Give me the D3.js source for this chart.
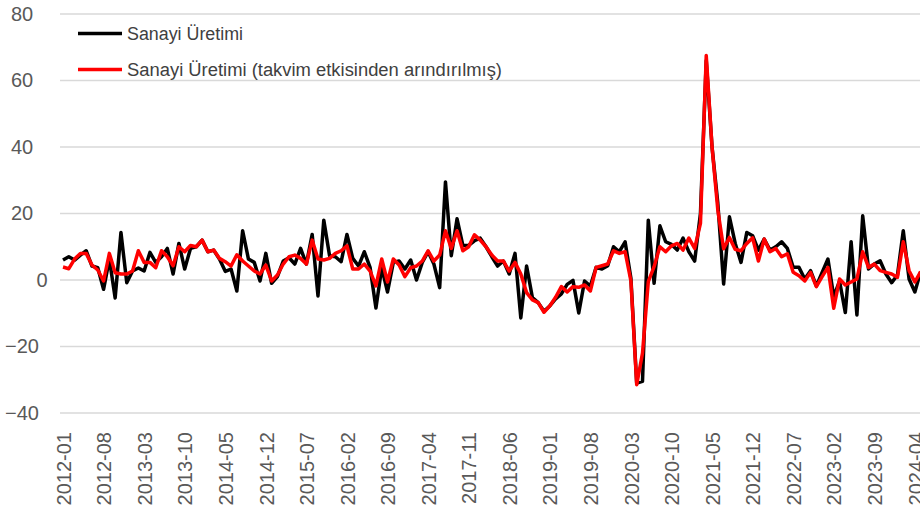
<!DOCTYPE html>
<html>
<head>
<meta charset="utf-8">
<script src="https://cdn.jsdelivr.net/npm/d3@7"></script>
<style>
  body { margin: 0; background: #fff; }
  svg { display: block; font-family: "Liberation Sans", Arial, sans-serif; }
</style>
</head>
<body>
<div id="chart"></div>
<script>
// monthly categories 2012-01 .. 2024-05
const months = [];
for (let y = 2012; y <= 2024; y++) {
  for (let m = 1; m <= 12; m++) {
    if (y === 2024 && m > 5) break;
    months.push(`${y}-${String(m).padStart(2, "0")}`);
  }
}

const tickLabels = ["2012-01","2012-08","2013-03","2013-10","2014-05","2014-12","2015-07",
  "2016-02","2016-09","2017-04","2017-11","2018-06","2019-01","2019-08","2020-03","2020-10",
  "2021-05","2021-12","2022-07","2023-02","2023-09","2024-04"];

const yTicks = [-40, -20, 0, 20, 40, 60, 80];

const seriesNames = ["Sanayi Üretimi", "Sanayi Üretimi (takvim etkisinden arındırılmış)"];

// Sanayi Üretimi (yıllık % değişim)
const sanayi = [
  6, 7, 6, 7.5, 8.8, 4.2, 3.7, -2.8, 6.3, -5.4, 14.3, -0.8,
  2.7, 3.6, 2.7, 8.3, 5.3, 7, 9.5, 1.8, 11, 3.3, 9.5, 10,
  12, 8.5, 9, 6.3, 2.6, 3.3, -3.3, 14.8, 6.3, 5.3, -0.3, 8,
  -1, 1, 5.7, 6.7, 4.8, 9.5, 4.8, 13.7, -4.8, 18, 7.3, 7,
  5.5, 13.7, 6.5, 4.2, 8.5, 3.7, -8.4, 3.7, -3.6, 5.3, 5.7, 3.3,
  6, 0, 5.3, 8.5, 4.8, -2.3, 29.5, 7.3, 18.4, 10.4, 10.4, 11.8,
  12.6, 10, 7, 4.2, 5.7, 1.8, 8, -11.4, 4.2, -5.3, -6.8, -9.4,
  -7.8, -5.7, -4.2, -1.3, -0.1, -9.9, -0.3, -1.8, 3.8, 3.3, 4.3, 10,
  8.5, 11.5, 0.5, -31, -30.5, 18, -1, 16.3, 11.5, 10.7, 9, 12.6,
  8.5, 5.7, 20, 66, 40, 23, -1.2, 19, 11, 5.3, 14.3, 13.3,
  9, 12.3, 9, 10, 11.5, 9.5, 3.8, 3.8, 0.3, 2.8, -1.8, 2.3,
  6.3, -5, -0.3, -9.8, 11.5, -10.5, 19.3, 3.3, 4.8, 5.8, 1.8, -0.8,
  1.5, 14.8, 0.3, -3.6, 2.5
];

// Sanayi Üretimi (takvim etkisinden arındırılmış)
const takvim = [
  3.9, 3.4, 6.3, 8, 8, 4.5, 3, -0.3, 8, 2.2, 1.8, 1.8,
  2.7, 8.8, 5.3, 5.3, 3.7, 8.8, 7, 4.3, 10, 8.5, 10.4, 10,
  12, 8.5, 9, 6.5, 5.5, 4.2, 7.6, 5.7, 4.2, 2.7, 1.8, 4.5,
  -0.3, 1.5, 4.8, 7, 7.5, 6.5, 4.8, 12, 6.3, 6, 6.5, 8,
  8.8, 10.3, 3.3, 3.3, 4.8, 2.7, -1.8, 6.3, -0.6, 6.3, 4.5, 1,
  3.7, 4.2, 5.7, 8.8, 5.7, 7.5, 14.8, 9.5, 14.8, 8.8, 10, 13.6,
  12, 10, 7.5, 5.7, 5.7, 2.7, 5.3, 1.8, -3.8, -6, -6.8, -9.7,
  -7.8, -5.2, -2, -3.6, -2, -2.2, -1.5, -3.3, 3.8, 4.3, 4.8, 8.8,
  8, 8.5, -0.3, -31.5, -22, -0.5, 4, 10, 8.5, 10.3, 11, 9,
  12.6, 9.5, 17, 67.5, 40, 21, 9.4, 12.8, 9.2, 8.8, 11, 12.7,
  5.7, 12.3, 8.5, 9.5, 7, 7.9, 2.3, 1.3, -0.3, 2.3, -2, 1,
  3.8, -8.5, 0.3, -1.5, -0.6, 0.3, 8.5, 3.8, 4.8, 2.8, 2.3, 1.8,
  0.8, 11.5, 2.8, -0.6, 2.5
];

const width = 920, height = 516;
const step = 5.795;
const plotLeft = 60, firstX = 63, yTop = 14, yBottom = 413;

const svg = d3.select("#chart")
  .append("svg")
  .attr("width", width)
  .attr("height", height);

const x = d3.scalePoint()
  .domain(months)
  .range([firstX, firstX + (months.length - 1) * step]);

const y = d3.scaleLinear()
  .domain([-40, 80])
  .range([yBottom, yTop]);

// gridlines
svg.append("g")
  .selectAll("line")
  .data(yTicks)
  .enter()
  .append("line")
  .attr("x1", plotLeft)
  .attr("x2", width)
  .attr("y1", d => y(d))
  .attr("y2", d => y(d))
  .attr("stroke", "#d9d9d9")
  .attr("stroke-width", 1.5);

// y axis labels
const yAxis = svg.append("g")
  .attr("transform", "translate(22,0)")
  .call(d3.axisLeft(y).tickValues(yTicks).tickSize(0).tickPadding(0));
yAxis.select(".domain").remove();
yAxis.selectAll("text")
  .attr("text-anchor", "middle")
  .attr("x", d => d === 0 ? 20 : 0)
  .attr("fill", "#595959")
  .style("font-size", "20px")
  .style("font-family", "'Liberation Sans', Arial, sans-serif");

// x axis labels (rotated)
const xAxis = svg.append("g")
  .attr("transform", "translate(0,432)")
  .call(d3.axisBottom(x).tickValues(tickLabels).tickSize(0).tickPadding(0));
xAxis.select(".domain").remove();
xAxis.selectAll("text")
  .attr("transform", "rotate(-90)")
  .attr("text-anchor", "end")
  .attr("x", 0)
  .attr("y", 0)
  .attr("dy", "0.36em")
  .attr("fill", "#595959")
  .style("font-size", "20px")
  .style("font-family", "'Liberation Sans', Arial, sans-serif");

// lines
const line = d3.line()
  .x((d, i) => x(months[i]))
  .y(d => y(d));

svg.append("path")
  .datum(sanayi)
  .attr("fill", "none")
  .attr("stroke", "#000000")
  .attr("stroke-width", 3.5)
  .attr("stroke-linejoin", "round")
  .attr("d", line);

svg.append("path")
  .datum(takvim)
  .attr("fill", "none")
  .attr("stroke", "#ff0000")
  .attr("stroke-width", 3.5)
  .attr("stroke-linejoin", "round")
  .attr("d", line);

// legend
const legendColors = ["#000000", "#ff0000"];
const legendWidths = [116, 375];
const legend = svg.append("g");
seriesNames.forEach((name, i) => {
  const ly = 33.5 + i * 36;
  legend.append("line")
    .attr("x1", 78).attr("x2", 122)
    .attr("y1", ly).attr("y2", ly)
    .attr("stroke", legendColors[i])
    .attr("stroke-width", 3.5);
  legend.append("text")
    .attr("x", 127)
    .attr("y", ly)
    .attr("dy", "0.35em")
    .attr("fill", "#404040")
    .attr("textLength", legendWidths[i])
    .attr("lengthAdjust", "spacingAndGlyphs")
    .style("font-size", "18px")
    .text(name);
});
</script>
</body>
</html>
